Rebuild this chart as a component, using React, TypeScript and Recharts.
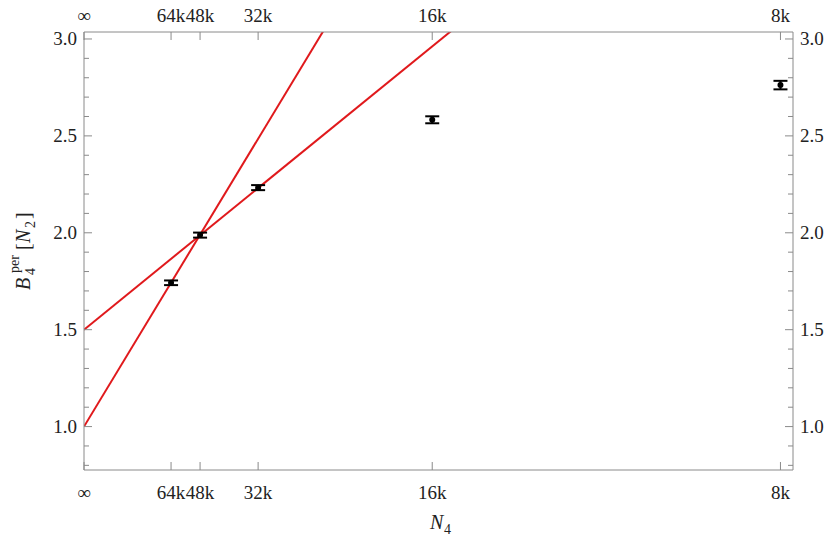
import { ComposedChart, Line, Scatter, ErrorBar, XAxis, YAxis } from 'recharts';

// lattice sizes N4 and measured B4 values
const sizes = [64000, 48000, 32000, 16000, 8000];
const b4 = [1.742, 1.988, 2.233, 2.583, 2.762];
const b4err = [0.012, 0.013, 0.013, 0.018, 0.022];

// x ticks (N4) and their labels
const xTickN = [Infinity, 64000, 48000, 32000, 16000, 8000];
const xTickLabels = ['∞', '64k', '48k', '32k', '16k', '8k'];

// y ticks: minor every 0.1, labelled ones listed separately
const yTicks = [0.8, 0.9, 1.0, 1.1, 1.2, 1.3, 1.4, 1.5, 1.6, 1.7, 1.8, 1.9, 2.0, 2.1, 2.2, 2.3, 2.4, 2.5, 2.6, 2.7, 2.8, 2.9, 3.0];
const yMajor = ['1.0', '1.5', '2.0', '2.5', '3.0'];

// two fitted lines, read as endpoints (x = 8000 / N4)
const fitSteep = [
  { x: 0, y: 1.0 },
  { x: 0.4, y: 3.376 },
];
const fitFlat = [
  { x: 0, y: 1.5 },
  { x: 0.6, y: 3.254 },
];

const points = sizes.map((n, i) => ({ x: 8000 / n, y: b4[i], err: b4err[i] }));
const xTicks = xTickN.map((n) => 8000 / n);
const labelFor = (v: number) => xTickLabels[xTicks.findIndex((t) => Math.abs(t - v) < 1e-6)];

const FONT = "'Liberation Serif', 'DejaVu Serif', serif";
const TXT = { fontFamily: FONT };
const AXIS = '#8a8a8a';
const XDOM: [number, number] = [0, 1.018];
const YDOM: [number, number] = [0.776, 3.036];

const BottomTick = (p: any) => (
  <g>
    <line x1={p.x} x2={p.x} y1={p.y} y2={p.y - 8} stroke={AXIS} strokeWidth={1} />
    <text x={p.x} y={p.y + 29} textAnchor="middle" style={TXT} fontSize={19} fill="#222">
      {labelFor(p.payload.value)}
    </text>
  </g>
);

const TopTick = (p: any) => (
  <g>
    <line x1={p.x} x2={p.x} y1={p.y} y2={p.y + 8} stroke={AXIS} strokeWidth={1} />
    <text x={p.x} y={p.y - 10} textAnchor="middle" style={TXT} fontSize={19} fill="#222">
      {labelFor(p.payload.value)}
    </text>
  </g>
);

const isMajor = (v: number) => yMajor.includes(v.toFixed(1));

const LeftTick = (p: any) => {
  const major = isMajor(p.payload.value);
  return (
    <g>
      <line x1={p.x} x2={p.x + (major ? 8 : 5)} y1={p.y} y2={p.y} stroke={AXIS} strokeWidth={1} />
      {major && (
        <text x={p.x - 7} y={p.y + 6} textAnchor="end" style={TXT} fontSize={19} fill="#222">
          {p.payload.value.toFixed(1)}
        </text>
      )}
    </g>
  );
};

const RightTick = (p: any) => {
  const major = isMajor(p.payload.value);
  return (
    <g>
      <line x1={p.x} x2={p.x - (major ? 8 : 5)} y1={p.y} y2={p.y} stroke={AXIS} strokeWidth={1} />
      {major && (
        <text x={p.x + 7} y={p.y + 6} textAnchor="start" style={TXT} fontSize={19} fill="#222">
          {p.payload.value.toFixed(1)}
        </text>
      )}
    </g>
  );
};

export default function App() {
  return (
    <div style={{ position: 'absolute', left: 0, top: 0, width: 830, height: 547, background: '#fff', fontFamily: FONT }}>
      <ComposedChart width={830} height={547} margin={{ top: 0, right: 0, bottom: 0, left: 0 }}>
        <XAxis
          xAxisId="b"
          type="number"
          dataKey="x"
          domain={XDOM}
          ticks={xTicks}
          tick={BottomTick}
          interval={0}
          tickSize={0}
          tickMargin={0}
          height={77}
          orientation="bottom"
          stroke={AXIS}
          allowDataOverflow
        />
        <XAxis
          xAxisId="t"
          type="number"
          dataKey="x"
          domain={XDOM}
          ticks={xTicks}
          tick={TopTick}
          interval={0}
          tickSize={0}
          tickMargin={0}
          height={32}
          orientation="top"
          stroke={AXIS}
          allowDataOverflow
        />
        <YAxis
          yAxisId="l"
          type="number"
          domain={YDOM}
          ticks={yTicks}
          tick={LeftTick}
          tickSize={0}
          tickMargin={0}
          width={84}
          stroke={AXIS}
          interval={0}
          allowDataOverflow
        />
        <YAxis
          yAxisId="r"
          orientation="right"
          type="number"
          domain={YDOM}
          ticks={yTicks}
          tick={RightTick}
          tickSize={0}
          tickMargin={0}
          width={37}
          stroke={AXIS}
          interval={0}
          allowDataOverflow
        />
        <Line
          xAxisId="b"
          yAxisId="l"
          data={fitSteep}
          dataKey="y"
          type="linear"
          stroke="#e0191c"
          strokeWidth={2}
          dot={false}
          isAnimationActive={false}
        />
        <Line
          xAxisId="b"
          yAxisId="l"
          data={fitFlat}
          dataKey="y"
          type="linear"
          stroke="#e0191c"
          strokeWidth={2}
          dot={false}
          isAnimationActive={false}
        />
        <Scatter xAxisId="b" yAxisId="l" data={points} dataKey="y" fill="#000" isAnimationActive={false}
          shape={(p: any) => <circle cx={p.cx} cy={p.cy} r={3} fill="#000" />}>
          <ErrorBar dataKey="err" direction="y" width={7} stroke="#000" strokeWidth={2} isAnimationActive={false} />
        </Scatter>
      </ComposedChart>
      <svg width={830} height={547} style={{ position: 'absolute', left: 0, top: 0, pointerEvents: 'none', fontFamily: FONT }}>
        <g transform="translate(30, 249) rotate(-90)" fill="#222">
          <text x={-41} y={0} fontSize={20} fontStyle="italic" style={TXT}>B</text>
          <text x={-24} y={-11} fontSize={14} style={TXT}>per</text>
          <text x={-26} y={5} fontSize={14} style={TXT}>4</text>
          <text x={-1} y={0} fontSize={20} style={TXT}>[</text>
          <text x={6} y={0} fontSize={20} fontStyle="italic" style={TXT}>N</text>
          <text x={21} y={5} fontSize={14} style={TXT}>2</text>
          <text x={30} y={0} fontSize={20} style={TXT}>]</text>
        </g>
        <g fill="#222">
          <text x={430} y={529} fontSize={20} fontStyle="italic" style={TXT}>N</text>
          <text x={444} y={534} fontSize={14} style={TXT}>4</text>
        </g>
      </svg>
    </div>
  );
}
